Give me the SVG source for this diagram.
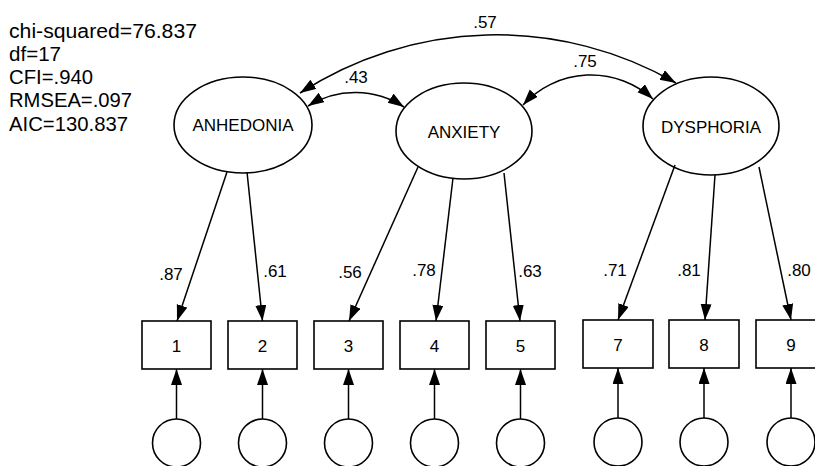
<svg xmlns="http://www.w3.org/2000/svg" width="815" height="466" viewBox="0 0 815 466">
  <style>
    text { font-family: "Liberation Sans", Arial, sans-serif; fill: #000; }
    .stat { font-size: 20px; }
    .lat { font-size: 17px; text-anchor: middle; }
    .obs { font-size: 17px; text-anchor: middle; }
    .coef { font-size: 17px; text-anchor: middle; }
    .shape { fill: #fff; stroke: #000; stroke-width: 1.6; }
    .edge { fill: none; stroke: #000; stroke-width: 1.5; }
    .path { marker-end: url(#head); }
    .cov { marker-start: url(#head); marker-end: url(#head); }
  </style>
  <defs>
    <marker id="head" markerUnits="userSpaceOnUse" markerWidth="17" markerHeight="12" refX="16" refY="5.5" orient="auto-start-reverse">
      <path d="M0,0 L16,5.5 L0,11 Z" fill="#000"/>
    </marker>
  </defs>

  <rect width="815" height="466" fill="#fff"/>

  <!-- fit statistics -->
  <g id="fit">
    <text class="stat" x="9" y="38" textLength="188" lengthAdjust="spacingAndGlyphs">chi-squared=76.837</text>
    <text class="stat" x="9" y="61" textLength="52" lengthAdjust="spacingAndGlyphs">df=17</text>
    <text class="stat" x="9" y="84" textLength="84" lengthAdjust="spacingAndGlyphs">CFI=.940</text>
    <text class="stat" x="9" y="107" textLength="123" lengthAdjust="spacingAndGlyphs">RMSEA=.097</text>
    <text class="stat" x="9" y="131" textLength="119" lengthAdjust="spacingAndGlyphs">AIC=130.837</text>
  </g>

  <!-- latent factors -->
  <g id="anhedonia">
    <ellipse class="shape" cx="243" cy="125" rx="69" ry="48"/>
    <text class="lat" x="243" y="131">ANHEDONIA</text>
  </g>
  <g id="anxiety">
    <ellipse class="shape" cx="464" cy="131" rx="68" ry="48"/>
    <text class="lat" x="464" y="138">ANXIETY</text>
  </g>
  <g id="dysphoria">
    <ellipse class="shape" cx="711" cy="126" rx="68" ry="49"/>
    <text class="lat" x="711" y="133">DYSPHORIA</text>
  </g>

  <!-- observed indicators -->
  <g id="item1"><rect class="shape" x="142" y="321" width="69" height="48"/><text class="obs" x="176.5" y="352">1</text></g>
  <g id="item2"><rect class="shape" x="228" y="321" width="69" height="48"/><text class="obs" x="262.5" y="352">2</text></g>
  <g id="item3"><rect class="shape" x="314" y="321" width="69" height="48"/><text class="obs" x="348.5" y="352">3</text></g>
  <g id="item4"><rect class="shape" x="400" y="321" width="69" height="48"/><text class="obs" x="434.5" y="352">4</text></g>
  <g id="item5"><rect class="shape" x="486" y="321" width="69" height="48"/><text class="obs" x="520.5" y="352">5</text></g>
  <g id="item7"><rect class="shape" x="583" y="320" width="70" height="48"/><text class="obs" x="618" y="351">7</text></g>
  <g id="item8"><rect class="shape" x="669" y="320" width="70" height="48"/><text class="obs" x="704" y="351">8</text></g>
  <g id="item9"><rect class="shape" x="756" y="320" width="70" height="48"/><text class="obs" x="791" y="351">9</text></g>

  <!-- error terms -->
  <g id="e1"><circle class="shape" cx="176.5" cy="443" r="24"/></g>
  <g id="e2"><circle class="shape" cx="262.5" cy="443" r="24"/></g>
  <g id="e3"><circle class="shape" cx="348.5" cy="443" r="24"/></g>
  <g id="e4"><circle class="shape" cx="434.5" cy="443" r="24"/></g>
  <g id="e5"><circle class="shape" cx="520.5" cy="443" r="24"/></g>
  <g id="e7"><circle class="shape" cx="618" cy="442" r="24"/></g>
  <g id="e8"><circle class="shape" cx="704" cy="442" r="24"/></g>
  <g id="e9"><circle class="shape" cx="791" cy="442" r="24"/></g>

  <!-- connectors -->
  <g id="connectors">
    <!-- factor loadings -->
    <line class="edge path" x1="227" y1="172" x2="177" y2="321"/>
    <line class="edge path" x1="247" y1="172" x2="262.5" y2="321"/>
    <line class="edge path" x1="418" y1="167" x2="349" y2="321"/>
    <line class="edge path" x1="453" y1="178" x2="436" y2="321"/>
    <line class="edge path" x1="504" y1="173" x2="520" y2="321"/>
    <line class="edge path" x1="675" y1="165" x2="618" y2="320"/>
    <line class="edge path" x1="715" y1="175" x2="705" y2="320"/>
    <line class="edge path" x1="759" y1="167" x2="791" y2="320"/>

    <!-- residuals -->
    <line class="edge path" x1="176.5" y1="419" x2="176.5" y2="369"/>
    <line class="edge path" x1="262.5" y1="419" x2="262.5" y2="369"/>
    <line class="edge path" x1="348.5" y1="419" x2="348.5" y2="369"/>
    <line class="edge path" x1="434.5" y1="419" x2="434.5" y2="369"/>
    <line class="edge path" x1="520.5" y1="419" x2="520.5" y2="369"/>
    <line class="edge path" x1="618" y1="418" x2="618" y2="368"/>
    <line class="edge path" x1="704" y1="418" x2="704" y2="368"/>
    <line class="edge path" x1="791" y1="418" x2="791" y2="368"/>

    <!-- factor correlations -->
    <path class="edge cov" d="M300,93 A360,360 0 0,1 676,83"/>
    <path class="edge cov" d="M308,106 A89,89 0 0,1 404,107"/>
    <path class="edge cov" d="M523,105 A92,92 0 0,1 653,99"/>
  </g>

  <!-- coefficients -->
  <g id="labels">
    <text class="coef" x="171" y="280">.87</text>
    <text class="coef" x="275" y="277">.61</text>
    <text class="coef" x="350" y="278">.56</text>
    <text class="coef" x="424" y="276">.78</text>
    <text class="coef" x="530" y="277">.63</text>
    <text class="coef" x="615" y="276">.71</text>
    <text class="coef" x="689" y="276">.81</text>
    <text class="coef" x="799" y="276">.80</text>
    <text class="coef" x="485" y="28">.57</text>
    <text class="coef" x="356" y="83">.43</text>
    <text class="coef" x="585" y="67">.75</text>
  </g>
</svg>
